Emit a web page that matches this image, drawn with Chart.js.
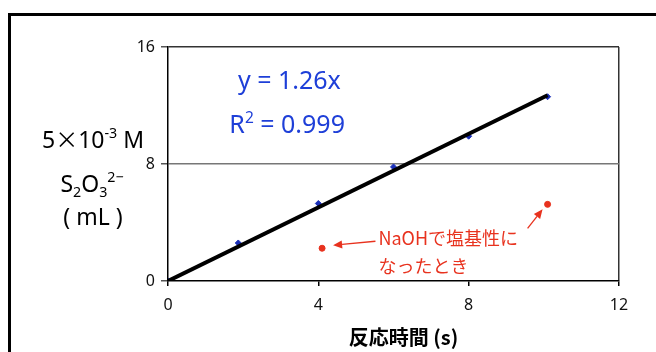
<!DOCTYPE html>
<html><head><meta charset="utf-8">
<script src="https://cdn.jsdelivr.net/npm/chart.js@4/dist/chart.umd.min.js"></script>
<style>html,body{margin:0;padding:0;background:#fff}#wrap{width:656px;height:352px}</style>
</head><body><div id="wrap"><canvas id="c" width="656" height="352"></canvas></div>
<script>
// Data
const timeX = [0, 1.87, 4.0, 6.0, 8.0, 10.1];
const volY  = [0, 2.6, 5.3, 7.8, 9.9, 12.6];
const naohX = [4.1, 10.1];
const naohY = [2.24, 5.24];
const trendX = [0, 10.1];
const trendY = [0, 12.7];
const xTicks = [0, 4, 8, 12];
const yTicks = [0, 8, 16];
const eqText = 'y = 1.26x';
const r2Text = '0.999';
const noteLines = ['NaOHで塩基性に', 'なったとき'];
const xTitle = '反応時間 (s)';

const FONT = '"Noto Sans","Noto Sans CJK JP",sans-serif';
const CJK = '"Noto Sans CJK JP","Noto Sans",sans-serif';
const BLUE = '#1e3fd8', RED = '#e8321e';

function pts(xs, ys){ return xs.map((x,i)=>({x:x, y:ys[i]})); }

function runs(ctx, parts, cx, cy, size){
  let total = 0;
  const m = parts.map(([t,k,f])=>{
    const s = k==='n'?size:size*0.62;
    const font = s+'px '+(f||FONT);
    ctx.font = font;
    const w = ctx.measureText(t).width; total += w; return {t,k,s,w,font};
  });
  let x = cx - total/2;
  ctx.textAlign='left'; ctx.textBaseline='alphabetic';
  m.forEach(p=>{
    ctx.font = p.font;
    const dy = p.k==='sub'? size*0.22 : p.k==='sup'? -size*0.42 : 0;
    ctx.fillText(p.t, x, cy+dy); x += p.w;
  });
}

function arrow(ctx, x1,y1,x2,y2,color){
  ctx.save(); ctx.strokeStyle=color; ctx.fillStyle=color; ctx.lineWidth=1.3;
  const a = Math.atan2(y2-y1,x2-x1), L=9, W=4;
  const bx = x2 - L*Math.cos(a), by = y2 - L*Math.sin(a);
  ctx.beginPath(); ctx.moveTo(x1,y1); ctx.lineTo(bx,by); ctx.stroke();
  ctx.beginPath(); ctx.moveTo(x2,y2);
  ctx.lineTo(bx + W*Math.sin(a), by - W*Math.cos(a));
  ctx.lineTo(bx - W*Math.sin(a), by + W*Math.cos(a));
  ctx.closePath(); ctx.fill(); ctx.restore();
}

const deco = {
  id:'deco',
  beforeDraw(chart){
    const ctx = chart.ctx; ctx.save();
    ctx.fillStyle='#fff'; ctx.fillRect(0,0,chart.width,chart.height);
    ctx.strokeStyle='#000'; ctx.lineWidth=3;
    ctx.strokeRect(9.5,14.5,800,500);
    ctx.restore();
  },
  afterDraw(chart){
    const ctx = chart.ctx, xs = chart.scales.x, ys = chart.scales.y;
    const ca = chart.chartArea;
    ctx.save();
    ctx.fillStyle = BLUE;
    ctx.font = '25px '+FONT; ctx.textAlign='center'; ctx.textBaseline='middle';
    ctx.fillText(eqText, xs.getPixelForValue(3.23), ys.getPixelForValue(13.6));
    runs(ctx, [['R','n'],['2','sup'],[' = '+r2Text,'n']], xs.getPixelForValue(3.17), ys.getPixelForValue(10.1), 25);
    ctx.fillStyle = '#000';
    runs(ctx, [['5','n'],['×','n',CJK],['10','n'],['-3','sup'],[' M','n']], ca.left-75, ys.getPixelForValue(9.1), 23);
    runs(ctx, [['S','n'],['2','sub'],['O','n'],['3','sub'],['2−','sup']], ca.left-76, ys.getPixelForValue(6.1), 23);
    runs(ctx, [['( mL )','n']], ca.left-75, ys.getPixelForValue(3.8), 23);
    ctx.font = 'bold 20px '+CJK; ctx.textAlign='center'; ctx.textBaseline='middle';
    ctx.fillText(xTitle, (ca.left+ca.right)/2+10, ca.bottom+56);
    ctx.fillStyle = RED; ctx.font = '18px '+CJK; ctx.textAlign='left';
    const nx = xs.getPixelForValue(5.6);
    ctx.fillText(noteLines[0], nx, ys.getPixelForValue(2.9));
    ctx.fillText(noteLines[1], nx, ys.getPixelForValue(1.0));
    const p1x = xs.getPixelForValue(naohX[0]), p1y = ys.getPixelForValue(naohY[0]);
    arrow(ctx, nx-3, p1y-7, p1x+11, p1y-3, RED);
    const p2x = xs.getPixelForValue(naohX[1]), p2y = ys.getPixelForValue(naohY[1]);
    arrow(ctx, p2x-20, p2y+24, p2x-5, p2y+5, RED);
    ctx.restore();
  }
};

new Chart(document.getElementById('c'), {
  type:'scatter',
  data:{ datasets:[
    { type:'line', data: pts(trendX, trendY), borderColor:'#000', borderWidth:4, pointRadius:0, fill:false, order:1 },
    { data: pts(timeX, volY), pointStyle:'rectRot', radius:3, backgroundColor:'#1a2fb8', borderColor:'#1a2fb8', order:2 },
    { data: pts(naohX, naohY), pointStyle:'circle', radius:3, backgroundColor:RED, borderColor:RED, order:0 }
  ]},
  options:{
    responsive:false, animation:false, devicePixelRatio:1,
    layout:{ padding:{ left:0, top:47, right:37, bottom:0 } },
    plugins:{ legend:{display:false}, tooltip:{enabled:false} },
    scales:{
      x:{ type:'linear', min:0, max:12,
        afterBuildTicks(s){ s.ticks = xTicks.map(v=>({value:v})); },
        afterFit(s){ s.height = 71; },
        border:{ color:'#000', width:1.5 },
        grid:{ drawOnChartArea:true, tickLength:5, tickColor:'#000',
          color:(c)=> c.tick && c.tick.value===12 ? '#333' : 'rgba(0,0,0,0)', lineWidth:1.5 },
        ticks:{ color:'#111', font:{ family:FONT, size:16 }, padding:10, maxRotation:0 }
      },
      y:{ type:'linear', min:0, max:16,
        afterBuildTicks(s){ s.ticks = yTicks.map(v=>({value:v})); },
        afterFit(s){ s.width = 168; },
        border:{ color:'#000', width:1.5 },
        grid:{ tickLength:7, tickColor:'#555',
          color:(c)=> !c.tick ? 'rgba(0,0,0,0)' : c.tick.value===16 ? '#333' : c.tick.value===8 ? '#777' : 'rgba(0,0,0,0)', lineWidth:1.5 },
        ticks:{ color:'#111', font:{ family:FONT, size:16 }, padding:6 }
      }
    }
  },
  plugins:[deco]
});
</script></body></html>
